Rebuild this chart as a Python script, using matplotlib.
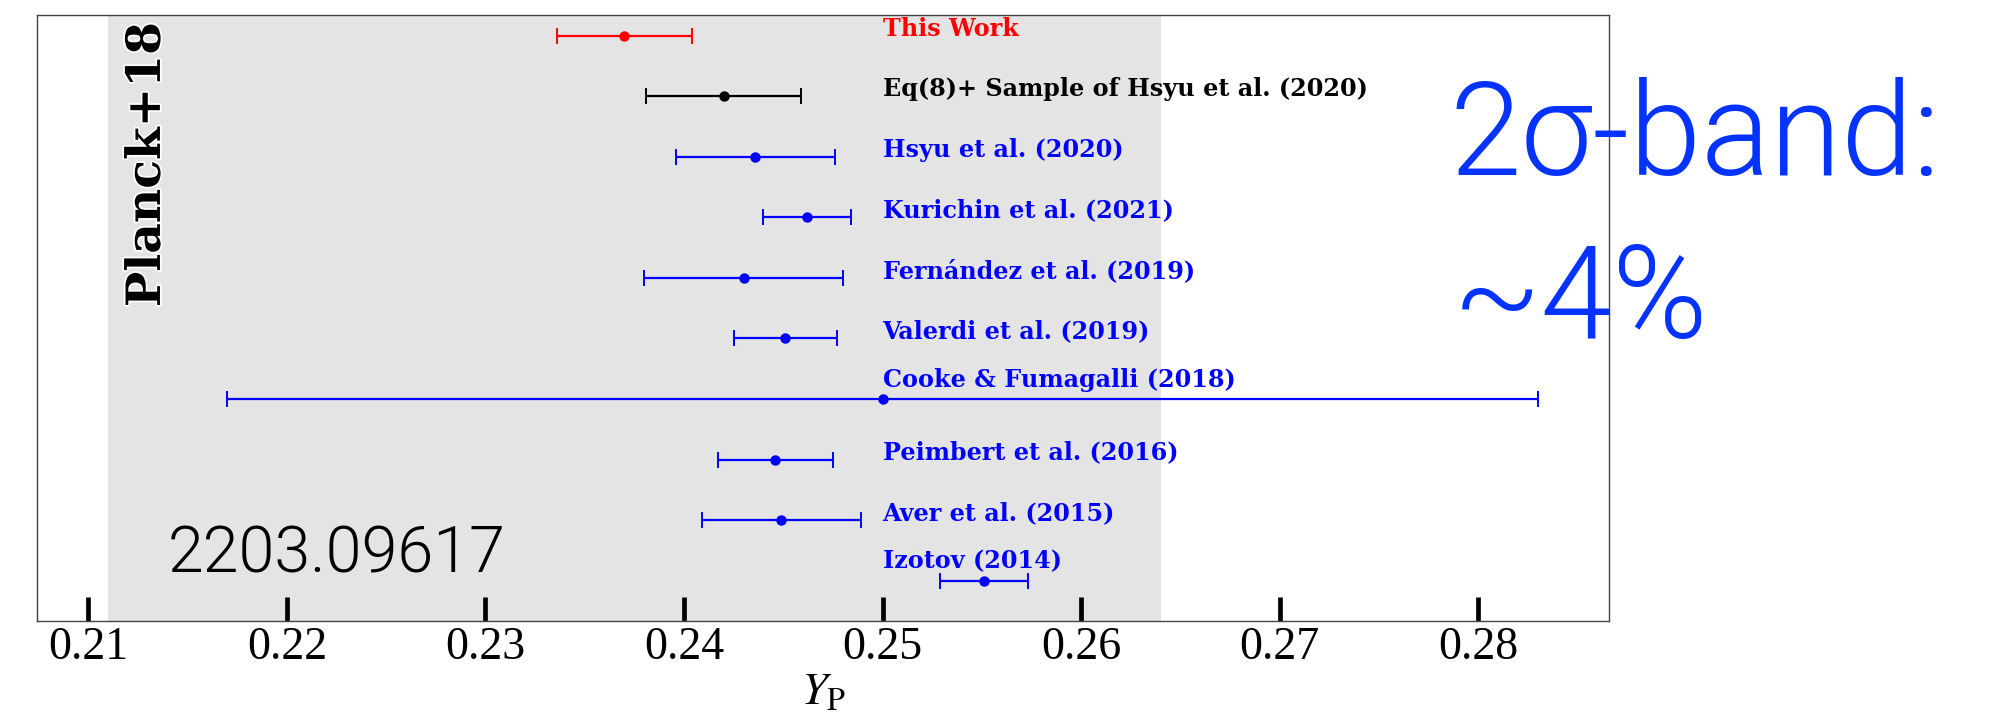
import matplotlib
matplotlib.use("Agg")
import matplotlib.pyplot as plt
import matplotlib.patheffects as pe
import numpy as np

# Helium mass fraction determinations, listed top to bottom
labels = ["This Work",
          "Eq(8)+ Sample of Hsyu et al. (2020)",
          "Hsyu et al. (2020)",
          "Kurichin et al. (2021)",
          "Fernández et al. (2019)",
          "Valerdi et al. (2019)",
          "Cooke & Fumagalli (2018)",
          "Peimbert et al. (2016)",
          "Aver et al. (2015)",
          "Izotov (2014)"]
yp = [0.2370, 0.2420, 0.2436, 0.2462, 0.2430, 0.2451, 0.250, 0.2446, 0.2449, 0.2551]
yp_err = [0.0034, 0.0039, 0.0040, 0.0022, 0.0050, 0.0026, 0.033, 0.0029, 0.0040, 0.0022]
colors = ["red", "black"] + ["blue"] * 8

# Planck+18 range
planck_lo = 0.211
planck_hi = 0.264

xticks = [0.21, 0.22, 0.23, 0.24, 0.25, 0.26, 0.27, 0.28]

plt.rcParams["font.family"] = "Liberation Serif"
plt.rcParams["mathtext.fontset"] = "stix"

fig = plt.figure(figsize=(19.98, 7.13), dpi=100)
ax = fig.add_axes([0.01837, 0.12903, 0.78709, 0.84951])

ax.axvspan(planck_lo, planck_hi, color="#e4e4e4", lw=0, zorder=0)

rows = np.arange(len(labels), 0, -1)
# a couple of names sit a bit higher so they clear their bars
label_dy = [0, 0, 0, 0, 0, 0, 0.2, 0, 0, 0.2]

for i in range(len(labels)):
    ax.errorbar(yp[i], rows[i], xerr=yp_err[i], fmt="o", color=colors[i],
                ms=6.5, elinewidth=1.6, capsize=5.5, capthick=1.4)
    ax.text(0.25, rows[i] + label_dy[i], labels[i], color=colors[i],
            fontsize=17.2, fontweight="bold", family="DejaVu Serif")

ax.text(0.0701, 0.7537, "Planck+18", transform=ax.transAxes, rotation=90,
        ha="center", va="center", fontsize=34, fontweight="bold",
        family="DejaVu Serif",
        path_effects=[pe.withStroke(linewidth=2.5, foreground="white")])

ax.set_xlim(0.2074, 0.2866)
ax.set_ylim(0.334, 10.337)
ax.set_yticks([])
ax.set_xticks(xticks)
ax.set_xticklabels(["%.2f" % t for t in xticks])
ax.tick_params(axis="x", direction="in", length=17, width=3.4,
               labelsize=33, pad=4)
ax.set_xlabel(r"$Y_{\rm P}$", fontsize=33, labelpad=2)

for s in ax.spines.values():
    s.set_color("#444444")
    s.set_linewidth(1.0)

sans = ["Roboto", "DejaVu Sans"]
fig.text(0.0841, 0.1964, "2203.09617", fontsize=46.5,
         family=sans, fontweight=300)
fig.text(0.7252, 0.7546, "2σ-band:", fontsize=93, color="#0433ff",
         family=sans, fontweight=300)
fig.text(0.7272, 0.5259, "~4%", fontsize=93, color="#0433ff",
         family=sans, fontweight=300)

fig.savefig("out.png", dpi=100)
